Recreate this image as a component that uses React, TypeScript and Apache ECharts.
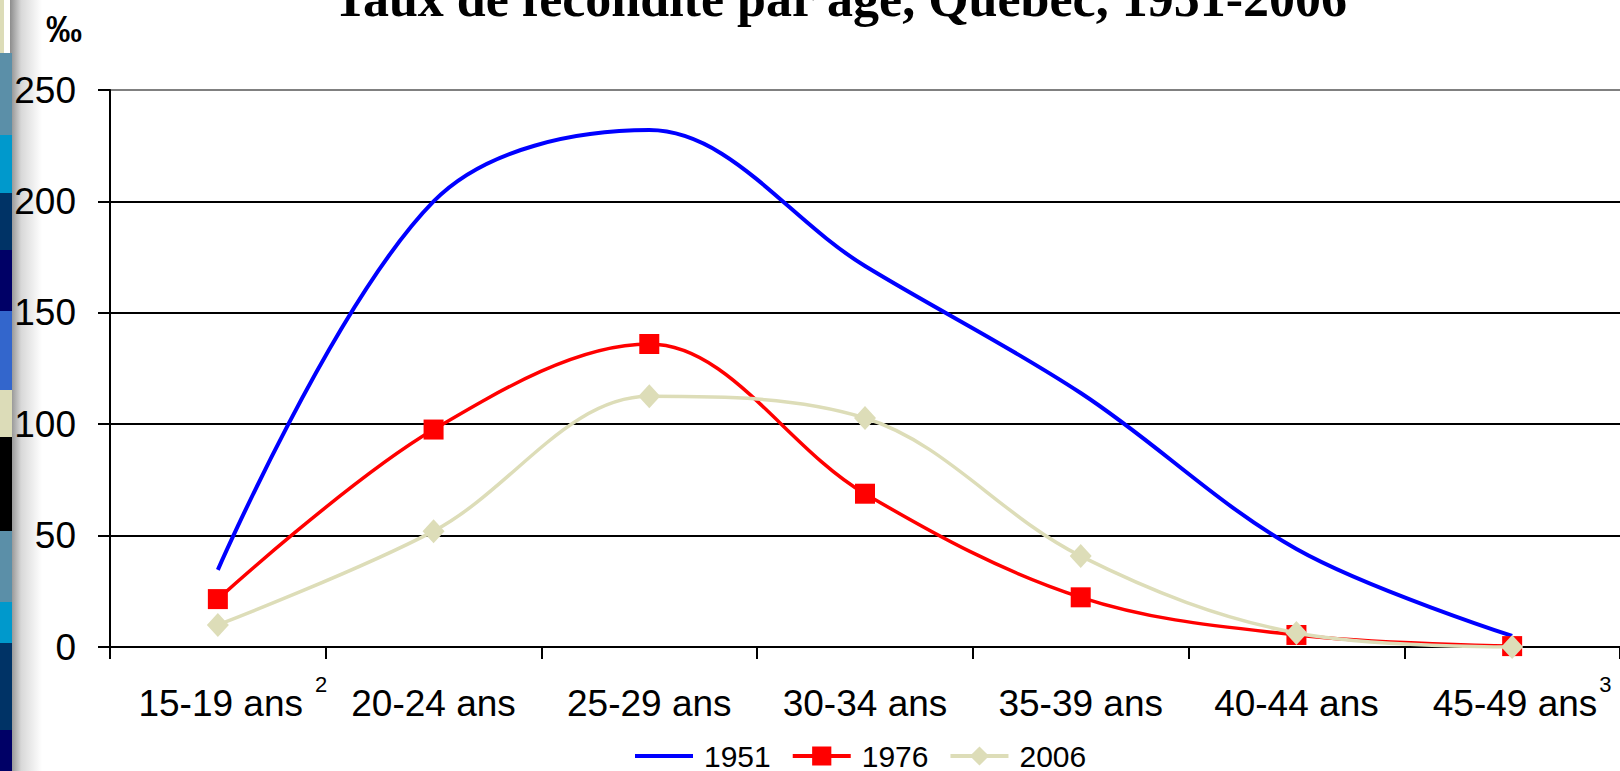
import React, { useEffect, useRef } from "react";
import * as echarts from "echarts";

const categories = ["15-19 ans", "20-24 ans", "25-29 ans", "30-34 ans", "35-39 ans", "40-44 ans", "45-49 ans"];
const labelNotes = ["2", "", "", "", "", "", "3"];
const s1951 = [34.6, 200, 232, 171, 114, 44, 5];
const s1976 = [21.5, 97.6, 136, 68.8, 22.3, 5.4, 0.4];
const s2006 = [9.9, 52, 112.5, 102.8, 40.8, 6.3, 0];
const seriesNames = ["1951", "1976", "2006"];
const titleText = "Taux de fécondité par âge, Québec, 1951-2006";
const unitText = "‰";

// decorative strip on the left edge: [top, bottom, color, width]
const stripBlocks: [number, number, string, number][] = [
  [0, 53, "#dcdcb8", 4],
  [53, 135, "#5b8fa8", 12],
  [135, 193, "#0099cc", 12],
  [193, 250, "#003366", 12],
  [250, 311, "#000066", 12],
  [311, 390, "#3366cc", 12],
  [390, 437, "#dcdcb8", 12],
  [437, 531, "#000000", 12],
  [531, 602, "#5b8fa8", 12],
  [602, 643, "#0099cc", 12],
  [643, 730, "#003366", 12],
  [730, 771, "#000066", 12],
];

const FONT = "'Liberation Sans', Arial, sans-serif";

export default function App() {
  const ref = useRef<HTMLDivElement>(null);
  useEffect(() => {
    if (!ref.current) return;
    const chart = echarts.init(ref.current, null, { renderer: "svg" });
    const graphics: any[] = [
      {
        type: "rect",
        shape: { x: 10, y: 0, width: 32, height: 771 },
        style: {
          fill: new echarts.graphic.LinearGradient(0, 0, 1, 0, [
            { offset: 0, color: "#8c8c8c" },
            { offset: 0.35, color: "#d8d8d8" },
            { offset: 1, color: "#ffffff" },
          ]),
        },
        z: 0,
      },
      ...stripBlocks.map(([t, b, c, w]) => ({
        type: "rect",
        shape: { x: 0, y: t, width: w, height: b - t },
        style: { fill: c },
        z: 1,
      })),
      {
        type: "text",
        x: 840,
        y: -1.5,
        style: {
          text: titleText,
          font: "bold 52px 'Liberation Serif', 'Times New Roman', serif",
          fill: "#000",
          align: "center",
          verticalAlign: "middle",
        },
        z: 5,
      },
      {
        type: "text",
        x: 64,
        y: 29,
        style: {
          text: unitText,
          font: "bold 36px " + FONT,
          fill: "#000",
          align: "center",
          verticalAlign: "middle",
        },
        z: 5,
      },
    ];

    const option: any = {
      animation: false,
      backgroundColor: "#ffffff",
      graphic: graphics,
      grid: { left: 110, width: 1516, top: 90, bottom: 124, containLabel: false },
      legend: {
        left: 633,
        top: 741,
        padding: 0,
        itemWidth: 58,
        itemHeight: 24,
        itemGap: 20,
        data: [
          { name: seriesNames[0], itemStyle: { opacity: 0 }, lineStyle: { width: 4 } },
          { name: seriesNames[1], lineStyle: { width: 4 } },
          { name: seriesNames[2], lineStyle: { width: 4 } },
        ],
        textStyle: { fontSize: 30, lineHeight: 30, fontFamily: FONT, color: "#000", padding: [0, 0, 0, 6] },
      },
      xAxis: {
        type: "category",
        data: categories,
        boundaryGap: true,
        axisLine: { lineStyle: { color: "#000", width: 2 } },
        axisTick: { show: true, length: 12, inside: false, lineStyle: { color: "#000", width: 2 } },
        axisLabel: {
          interval: 0,
          margin: 26,
          formatter: (v: string, i: number) => {
            const note = labelNotes[i];
            if (!note) return `{m|${v}}`;
            return i === 0 ? `{ma|${v}}{sa|${note}}` : `{mb|${v}}{sb|${note}}`;
          },
          rich: {
            m: { fontSize: 37, fontFamily: FONT, color: "#000", padding: [12, 0, 0, 0] },
            ma: { fontSize: 37, fontFamily: FONT, color: "#000", padding: [12, 0, 0, 30] },
            mb: { fontSize: 37, fontFamily: FONT, color: "#000", padding: [12, 0, 0, 20] },
            sa: { fontSize: 22, fontFamily: FONT, color: "#000", verticalAlign: "top", lineHeight: 22, padding: [0, 0, 0, 12] },
            sb: { fontSize: 22, fontFamily: FONT, color: "#000", verticalAlign: "top", lineHeight: 22, padding: [0, 0, 0, 2] },
          },
        },
        splitLine: { show: false },
      },
      yAxis: {
        type: "value",
        min: 0,
        max: 250,
        interval: 50,
        axisLine: { show: true, lineStyle: { color: "#000", width: 2 } },
        axisTick: { show: true, length: 12, inside: false, lineStyle: { color: "#000", width: 2 } },
        axisLabel: { fontSize: 37, fontFamily: FONT, color: "#000", margin: 34 },
        splitLine: {
          show: true,
          lineStyle: { color: ["#000", "#000", "#000", "#000", "#000", "#808080"], width: 2 },
        },
      },
      series: [
        {
          name: seriesNames[0],
          type: "line",
          data: s1951,
          smooth: 0.35,
          symbol: "none",
          lineStyle: { color: "#0000ff", width: 4 },
          itemStyle: { color: "#0000ff" },
          z: 2,
        },
        {
          name: seriesNames[1],
          type: "line",
          data: s1976,
          smooth: 0.35,
          symbol: "rect",
          symbolSize: 20,
          lineStyle: { color: "#ff0000", width: 3.5 },
          itemStyle: { color: "#ff0000" },
          z: 3,
        },
        {
          name: seriesNames[2],
          type: "line",
          data: s2006,
          smooth: 0.35,
          symbol: "diamond",
          symbolSize: [22, 24],
          lineStyle: { color: "#ddddb8", width: 3.5 },
          itemStyle: { color: "#ddddb8" },
          z: 4,
        },
      ],
    };
    chart.setOption(option);
    return () => chart.dispose();
  }, []);
  return (
    <div
      ref={ref}
      style={{ position: "absolute", left: 0, top: 0, width: 1620, height: 771, background: "#fff" }}
    />
  );
}
